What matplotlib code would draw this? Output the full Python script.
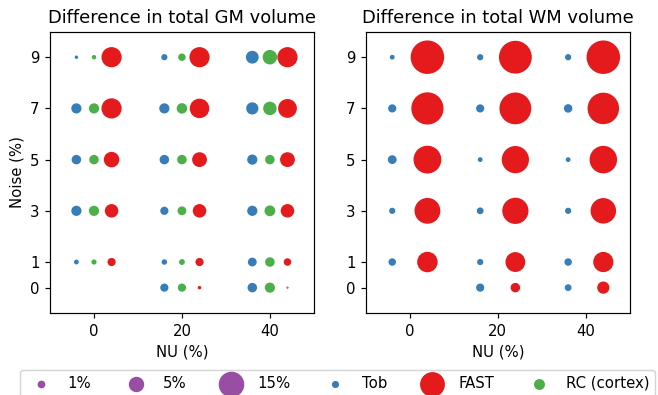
import numpy as np
import matplotlib
matplotlib.use('Agg')
import matplotlib.pyplot as plt

# colours (Set1)
c_tob = '#377eb8'
c_fast = '#e41a1c'
c_rc = '#4daf4a'
c_size = '#984ea3'

size_scale = 17.5  # marker area per percent

# (NU, noise) grid; NU=0 with noise 0 is missing
nu = [0, 0, 0, 0, 0, 20, 20, 20, 20, 20, 20, 40, 40, 40, 40, 40, 40]
noise = [9, 7, 5, 3, 1, 9, 7, 5, 3, 1, 0, 9, 7, 5, 3, 1, 0]

# difference in total GM volume (%)
gm_tob = [0.10, 1.96, 1.66, 1.96, 0.28, 0.57, 1.96, 1.66, 1.16, 0.41, 1.16, 3.31, 2.97, 1.96, 1.96, 1.38, 1.66]
gm_fast = [9.06, 9.06, 5.08, 3.73, 1.16, 9.06, 8.40, 4.58, 3.73, 1.16, 0.10, 9.06, 7.76, 4.58, 3.73, 0.93, 0.01]
gm_rc = [0.23, 1.96, 1.66, 1.96, 0.35, 0.93, 2.10, 1.66, 1.38, 0.48, 1.16, 4.38, 3.73, 1.66, 2.24, 1.66, 1.96]

# difference in total WM volume (%)
wm_tob = [0.28, 1.16, 1.38, 0.57, 0.93, 0.57, 1.16, 0.28, 0.73, 0.57, 1.16, 0.57, 1.27, 0.28, 0.57, 0.93, 0.73]
wm_fast = [26.5, 24.4, 17.9, 15.3, 9.36, 25.4, 23.8, 17.1, 15.8, 8.70, 1.66, 26.5, 23.3, 17.5, 14.9, 9.06, 2.97]

legend_pcts = [1, 5, 15]

nu = np.array(nu)
noise = np.array(noise)

fig = plt.figure(figsize=(658 / 107, 395 / 107), dpi=107)
ax1 = fig.add_axes([0.076, 0.207, 0.401, 0.713])
ax2 = fig.add_axes([0.556, 0.207, 0.401, 0.713])

ax1.scatter(nu - 4, noise, s=np.array(gm_tob) * size_scale, c=c_tob, label='Tob')
ax1.scatter(nu + 4, noise, s=np.array(gm_fast) * size_scale, c=c_fast, label='FAST')
ax1.scatter(nu, noise, s=np.array(gm_rc) * size_scale, c=c_rc, label='RC (cortex)')

ax2.scatter(nu - 4, noise, s=np.array(wm_tob) * size_scale, c=c_tob, label='Tob')
ax2.scatter(nu + 4, noise, s=np.array(wm_fast) * size_scale, c=c_fast, label='FAST')

for ax, title in [(ax1, 'Difference in total GM volume'), (ax2, 'Difference in total WM volume')]:
    ax.set_xlim(-10, 50)
    ax.set_ylim(-1, 10)
    ax.set_xticks([0, 20, 40])
    ax.set_yticks([0, 1, 3, 5, 7, 9])
    ax.set_xlabel('NU (%)')
    ax.set_title(title, fontsize=12)
ax1.set_ylabel('Noise (%)')

# size legend handles
size_handles = [ax2.scatter([], [], s=p * size_scale, c=c_size, label=f'{p}%') for p in legend_pcts]
h2, l2 = ax2.get_legend_handles_labels()
h1, l1 = ax1.get_legend_handles_labels()
handles = size_handles + h2[:2] + [h1[2]]
labels = [f'{p}%' for p in legend_pcts] + l2[:2] + [l1[2]]

fig.legend(handles, labels, loc='upper left', bbox_to_anchor=(0.03, 0.064),
           ncol=6, fontsize=10, borderaxespad=0)

fig.savefig('out.png', dpi=107)
